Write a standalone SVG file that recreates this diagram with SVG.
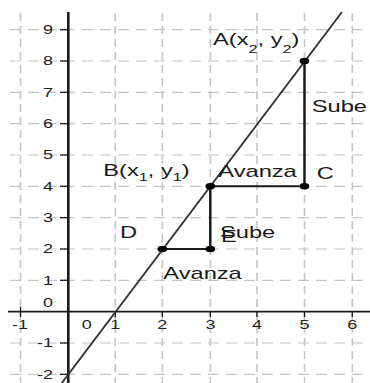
<svg xmlns="http://www.w3.org/2000/svg" width="370" height="383" viewBox="0 0 370 383">
<style>
.grid line{stroke:#c4c4c4;fill:none}
.gh{stroke-width:1.2;stroke-dasharray:11 7}
.gv{stroke-width:1.6;stroke-dasharray:8 5}
.ax{stroke:#1a1a1a;fill:none}
.tick{stroke:#1a1a1a;stroke-width:1.3}
.lbl{font-family:"Liberation Sans",Arial,sans-serif;font-size:12px;fill:#222}
.pl{font-family:"Liberation Sans",Arial,sans-serif;font-size:16px;fill:#1a1a1a}
.sub{font-size:11px}
.seg{stroke:#1a1a1a;fill:none}
.pt{fill:#000}
</style>
<rect width="370" height="383" fill="#fff"/>
<g id="grid" class="grid">
<line class="gh" x1="10" y1="29.7" x2="370" y2="29.7"/>
<line class="gh" x1="10" y1="61" x2="370" y2="61"/>
<line class="gh" x1="10" y1="92.3" x2="370" y2="92.3"/>
<line class="gh" x1="10" y1="123.7" x2="370" y2="123.7"/>
<line class="gh" x1="10" y1="155" x2="370" y2="155"/>
<line class="gh" x1="10" y1="186.3" x2="370" y2="186.3"/>
<line class="gh" x1="10" y1="217.7" x2="370" y2="217.7"/>
<line class="gh" x1="10" y1="249" x2="370" y2="249"/>
<line class="gh" x1="10" y1="280.3" x2="370" y2="280.3"/>
<line class="gh" x1="10" y1="343" x2="370" y2="343"/>
<line class="gh" x1="10" y1="374.3" x2="370" y2="374.3"/>
<line class="gv" x1="20.5" y1="13" x2="20.5" y2="383"/>
<line class="gv" x1="115.3" y1="13" x2="115.3" y2="383"/>
<line class="gv" x1="162.3" y1="13" x2="162.3" y2="383"/>
<line class="gv" x1="210.3" y1="13" x2="210.3" y2="383"/>
<line class="gv" x1="257" y1="13" x2="257" y2="383"/>
<line class="gv" x1="304.5" y1="13" x2="304.5" y2="383"/>
<line class="gv" x1="352.3" y1="13" x2="352.3" y2="383"/>
</g>
<g id="axes">
<line class="ax" x1="8" y1="311.7" x2="370" y2="311.7" stroke-width="1.8"/>
<line class="ax" x1="68.3" y1="12" x2="68.3" y2="383" stroke-width="2.6"/>
<g class="tick">
<line x1="60" y1="29.7" x2="68" y2="29.7"/><line x1="60" y1="61" x2="68" y2="61"/>
<line x1="60" y1="92.3" x2="68" y2="92.3"/><line x1="60" y1="123.7" x2="68" y2="123.7"/>
<line x1="60" y1="155" x2="68" y2="155"/><line x1="60" y1="186.3" x2="68" y2="186.3"/>
<line x1="60" y1="217.7" x2="68" y2="217.7"/><line x1="60" y1="249" x2="68" y2="249"/>
<line x1="60" y1="280.3" x2="68" y2="280.3"/><line x1="60" y1="343" x2="68" y2="343"/>
<line x1="60" y1="374.3" x2="68" y2="374.3"/>
<line x1="20.5" y1="307" x2="20.5" y2="317"/><line x1="115.3" y1="312" x2="115.3" y2="317"/>
<line x1="162.3" y1="312" x2="162.3" y2="317"/><line x1="210.3" y1="312" x2="210.3" y2="317"/>
<line x1="257" y1="312" x2="257" y2="317"/><line x1="304.5" y1="312" x2="304.5" y2="317"/>
<line x1="352.3" y1="312" x2="352.3" y2="317"/>
</g>
<g class="lbl" text-anchor="end">
<text transform="translate(53 34) scale(1.5 1)">9</text>
<text transform="translate(53 65.3) scale(1.5 1)">8</text>
<text transform="translate(53 96.6) scale(1.5 1)">7</text>
<text transform="translate(53 128) scale(1.5 1)">6</text>
<text transform="translate(53 159.3) scale(1.5 1)">5</text>
<text transform="translate(53 190.6) scale(1.5 1)">4</text>
<text transform="translate(53 222) scale(1.5 1)">3</text>
<text transform="translate(53 253.3) scale(1.5 1)">2</text>
<text transform="translate(53 284.6) scale(1.5 1)">1</text>
<text transform="translate(53 306.5) scale(1.5 1)">0</text>
<text transform="translate(53 347.3) scale(1.5 1)">-1</text>
<text transform="translate(53 378.6) scale(1.5 1)">-2</text>
</g>
<g class="lbl" text-anchor="middle">
<text transform="translate(20 329) scale(1.5 1)">-1</text>
<text transform="translate(86.7 329) scale(1.5 1)">0</text>
<text transform="translate(115.3 329) scale(1.5 1)">1</text>
<text transform="translate(162.3 329) scale(1.5 1)">2</text>
<text transform="translate(210.5 329) scale(1.5 1)">3</text>
<text transform="translate(257 329) scale(1.5 1)">4</text>
<text transform="translate(304.5 329) scale(1.5 1)">5</text>
<text transform="translate(352.3 329) scale(1.5 1)">6</text>
</g>
</g>
<g id="line-AB">
<line x1="342" y1="12" x2="61.8" y2="383" stroke="#333" stroke-width="1.9"/>
</g>
<g id="connectors" class="seg">
<line x1="162.3" y1="249" x2="210.3" y2="249" stroke-width="2"/>
<line x1="210.3" y1="249" x2="210.3" y2="186.3" stroke-width="2.5"/>
<line x1="210.3" y1="186.3" x2="304.5" y2="186.3" stroke-width="2"/>
<line x1="304.5" y1="186.3" x2="304.5" y2="61" stroke-width="2.5"/>
</g>
<g id="labels-segments" class="pl">
<text transform="translate(311.7 112.3) scale(1.48 1)">Sube</text>
<text transform="translate(218.3 176.5) scale(1.48 1)">Avanza</text>
<text transform="translate(220 237.8) scale(1.48 1)">Sube</text>
<text transform="translate(163.3 278.5) scale(1.48 1)">Avanza</text>
</g>
<g id="A">
<ellipse class="pt" cx="304.5" cy="61" rx="4.8" ry="3.3"/>
<text class="pl" transform="translate(213 45) scale(1.48 1)">A(x<tspan class="sub" dy="8">2</tspan><tspan dy="-8">, y</tspan><tspan class="sub" dy="8">2</tspan><tspan dy="-8">)</tspan></text>
</g>
<g id="B">
<ellipse class="pt" cx="210.3" cy="186.3" rx="4.8" ry="3.3"/>
<text class="pl" transform="translate(103.3 176) scale(1.48 1)">B(x<tspan class="sub" dy="5">1</tspan><tspan dy="-5">, y</tspan><tspan class="sub" dy="5">1</tspan><tspan dy="-5">)</tspan></text>
</g>
<g id="C">
<ellipse class="pt" cx="304.5" cy="186.3" rx="4.8" ry="3.3"/>
<text class="pl" transform="translate(316.7 179) scale(1.48 1)">C</text>
</g>
<g id="D">
<ellipse class="pt" cx="162.3" cy="249" rx="4.8" ry="3.3"/>
<text class="pl" transform="translate(120 238.3) scale(1.48 1)">D</text>
</g>
<g id="E">
<ellipse class="pt" cx="210.3" cy="249" rx="4.8" ry="3.3"/>
<text class="pl" transform="translate(221 241.7) scale(1.48 1)">E</text>
</g>
</svg>
